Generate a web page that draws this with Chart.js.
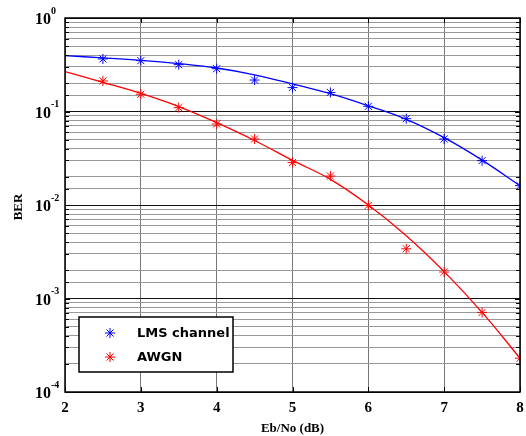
<!DOCTYPE html>
<html>
<head>
<meta charset="utf-8">
<script src="https://cdn.jsdelivr.net/npm/chart.js@4.4.0/dist/chart.umd.min.js"></script>
<style>
  html, body { margin: 0; padding: 0; background: #fff; }
  #wrap { width: 526px; height: 436px; }
</style>
</head>
<body>
<div id="wrap"><canvas id="myChart" width="526" height="436"></canvas></div>
<script>
// measured points (Eb/No in dB)
const ebno = [2.5, 3, 3.5, 4, 4.5, 5, 5.5, 6, 6.5, 7, 7.5, 8];
const lmsBer = [0.365, 0.35, 0.317, 0.287, 0.217, 0.18, 0.16, 0.1136, 0.0838, 0.0508, 0.0298, 0.0161];
const awgnBer = [0.212, 0.153, 0.11, 0.0735, 0.0508, 0.0284, 0.0204, 0.0099, 0.0034, 0.00192, 0.00071, 0.00023];

// fitted curves
const fitX = [2, 2.5, 3, 3.5, 4, 4.5, 5, 5.5, 6, 6.5, 7, 7.5, 8];
const lmsFit = [0.395, 0.375, 0.353, 0.325, 0.292, 0.247, 0.197, 0.155, 0.115, 0.0825, 0.0525, 0.0302, 0.0161];
const awgnFit = [0.267, 0.205, 0.156, 0.113, 0.076, 0.049, 0.0300, 0.0188, 0.0100, 0.0047, 0.00194, 0.00071, 0.00023];

const xTicks = [2, 3, 4, 5, 6, 7, 8];
const yDecades = [0, -1, -2, -3, -4];
const seriesNames = ["LMS channel", "AWGN"];
const seriesColors = ["#0000ff", "#ff0000"];

const toXY = (xs, ys) => xs.map((x, i) => ({ x: x, y: ys[i] }));

function isDecade(v) {
  let l = Math.log10(v);
  return Math.abs(l - Math.round(l)) < 1e-6;
}

const extras = {
  id: "extras",
  afterDraw(chart) {
    let ctx = chart.ctx;
    let a = chart.chartArea;
    let xs = chart.scales.x;
    let ys = chart.scales.y;
    ctx.save();

    // inward ticks
    ctx.strokeStyle = "#000";
    ctx.lineWidth = 1;
    ys.ticks.forEach((t) => {
      let y = Math.round(ys.getPixelForValue(t.value)) + 0.5;
      let len = isDecade(t.value) ? 5 : 4;
      ctx.beginPath();
      ctx.moveTo(a.left, y); ctx.lineTo(a.left + len, y);
      ctx.moveTo(a.right, y); ctx.lineTo(a.right - len, y);
      ctx.stroke();
    });
    xTicks.forEach((v) => {
      let x = Math.round(xs.getPixelForValue(v)) + 0.5;
      ctx.beginPath();
      ctx.moveTo(x, a.bottom); ctx.lineTo(x, a.bottom - 5);
      ctx.moveTo(x, a.top); ctx.lineTo(x, a.top + 5);
      ctx.stroke();
    });

    // box
    ctx.lineWidth = 1.5;
    ctx.strokeRect(a.left, a.top, a.right - a.left, a.bottom - a.top);

    // y labels 10^n
    ctx.fillStyle = "#000";
    yDecades.forEach((p) => {
      let y = ys.getPixelForValue(Math.pow(10, p));
      ctx.font = "bold 16px 'Liberation Serif'";
      ctx.textAlign = "right";
      ctx.textBaseline = "middle";
      ctx.fillText("10", 51, y + 2);
      ctx.font = "bold 10px 'Liberation Serif'";
      ctx.textAlign = "left";
      ctx.fillText(String(p), 51, y - 7);
    });

    // x labels
    ctx.font = "bold 15px 'Liberation Serif'";
    ctx.textAlign = "center";
    ctx.textBaseline = "middle";
    xTicks.forEach((v) => {
      ctx.fillText(String(v), xs.getPixelForValue(v), 408);
    });

    // axis titles
    ctx.font = "bold 13px 'Liberation Serif'";
    ctx.fillText("Eb/No (dB)", (a.left + a.right) / 2, 429);
    ctx.save();
    ctx.translate(19, (a.top + a.bottom) / 2 + 2);
    ctx.rotate(-Math.PI / 2);
    ctx.fillText("BER", 0, 0);
    ctx.restore();

    // legend
    let lx = 79, ly = 317, lw = 154, lh = 55;
    ctx.fillStyle = "#fff";
    ctx.fillRect(lx, ly, lw, lh);
    ctx.strokeStyle = "#000";
    ctx.lineWidth = 1.5;
    ctx.strokeRect(lx, ly, lw, lh);
    seriesNames.forEach((name, i) => {
      let cy = ly + 16 + i * 24;
      let cx = 110;
      ctx.strokeStyle = seriesColors[i];
      ctx.lineWidth = 1;
      let r = 5;
      ctx.beginPath();
      ctx.moveTo(cx - r, cy); ctx.lineTo(cx + r, cy);
      ctx.moveTo(cx, cy - r); ctx.lineTo(cx, cy + r);
      let d = r * 0.707;
      ctx.moveTo(cx - d, cy - d); ctx.lineTo(cx + d, cy + d);
      ctx.moveTo(cx - d, cy + d); ctx.lineTo(cx + d, cy - d);
      ctx.stroke();
      ctx.fillStyle = "#000";
      ctx.font = "bold 13px 'DejaVu Sans'";
      ctx.textAlign = "left";
      ctx.textBaseline = "middle";
      ctx.fillText(name, 137, cy + 1);
    });

    ctx.restore();
  },
};

let ctx = document.getElementById("myChart").getContext("2d");
let chart = new Chart(ctx, {
  type: "scatter",
  data: {
    datasets: [
      {
        label: seriesNames[0],
        data: toXY(ebno, lmsBer),
        showLine: false,
        pointStyle: "star",
        pointRadius: 5,
        borderColor: seriesColors[0],
        backgroundColor: seriesColors[0],
        borderWidth: 1,
      },
      {
        label: seriesNames[1],
        data: toXY(ebno, awgnBer),
        showLine: false,
        pointStyle: "star",
        pointRadius: 5,
        borderColor: seriesColors[1],
        backgroundColor: seriesColors[1],
        borderWidth: 1,
      },
      {
        label: "lms fit",
        data: toXY(fitX, lmsFit),
        showLine: true,
        pointRadius: 0,
        borderColor: seriesColors[0],
        borderWidth: 1.3,
        tension: 0.4,
      },
      {
        label: "awgn fit",
        data: toXY(fitX, awgnFit),
        showLine: true,
        pointRadius: 0,
        borderColor: seriesColors[1],
        borderWidth: 1.3,
        tension: 0.4,
      },
    ],
  },
  options: {
    responsive: false,
    animation: false,
    layout: { padding: { top: 18, right: 4, left: 0, bottom: 0 } },
    plugins: { legend: { display: false }, tooltip: { enabled: false } },
    scales: {
      x: {
        type: "linear",
        min: 2,
        max: 8,
        ticks: { stepSize: 1, callback: () => "", autoSkip: false },
        grid: { color: "#777", drawTicks: false },
        border: { display: false },
        afterFit: (s) => { s.height = 44; },
      },
      y: {
        type: "logarithmic",
        min: 0.0001,
        max: 1,
        ticks: { callback: () => "", autoSkip: false },
        grid: {
          drawTicks: false,
          color: (c) => (c.tick && isDecade(c.tick.value) ? "#111" : "#999"),
        },
        border: { display: false },
        afterFit: (s) => { s.width = 65; },
      },
    },
  },
  plugins: [extras],
});
</script>
</body>
</html>
